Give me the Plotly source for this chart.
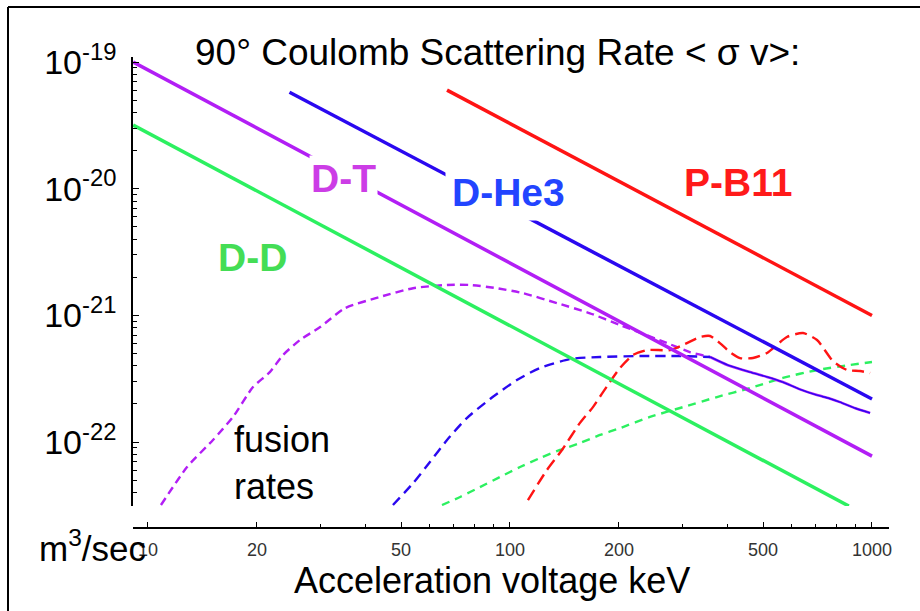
import plotly.graph_objects as go

# ---- Data ----
# 90-degree Coulomb scattering rate <sigma v> (m^3/s) vs acceleration voltage (keV)
dt_coul_keV = [9.1, 1000]
dt_coul_rate = [1.0e-19, 7.76e-23]
dd_coul_keV = [9.1, 863]
dd_coul_rate = [3.18e-20, 3.13e-23]
dhe3_coul_keV = [24.6, 1000]
dhe3_coul_rate = [5.77e-20, 2.19e-22]
pb11_coul_keV = [67, 1000]
pb11_coul_rate = [6.0e-20, 1.0e-21]

# fusion rates (dashed)
dt_fus_keV = [10.86, 12.82, 15.12, 17.17, 19.5, 21.7, 23.6, 26.3, 29.9, 35.0, 43.7, 54.0,
              67.0, 77.5, 92.0, 108.6, 134.9, 166.3, 201.3, 271.5, 314, 357]
dt_fus_rate = [3.19e-23, 6.36e-23, 1.04e-22, 1.58e-22, 2.72e-22, 3.57e-22, 4.87e-22, 6.40e-22,
               8.10e-22, 1.14e-21, 1.40e-21, 1.64e-21, 1.74e-21, 1.74e-21, 1.64e-21, 1.50e-21,
               1.25e-21, 1.04e-21, 8.40e-22, 6.05e-22, 5.14e-22, 4.70e-22]
dhe3_fus_keV = [47.5, 54.0, 60.1, 67.0, 76.0, 88.1, 104.5, 121.0, 146.5, 177.3, 228.6, 295, 357]
dhe3_fus_rate = [3.19e-23, 4.75e-23, 6.97e-23, 1.04e-22, 1.55e-22, 2.19e-22, 3.09e-22,
                 3.85e-22, 4.53e-22, 4.70e-22, 4.78e-22, 4.78e-22, 4.70e-22]
# high-energy tails (thin solid, D-T and D-He3 overlap)
tail_keV = [357, 400, 460, 513, 567, 630, 705, 760, 816, 900, 988]
tail_rate = [4.70e-22, 4.05e-22, 3.57e-22, 3.27e-22, 2.98e-22, 2.62e-22, 2.35e-22,
             2.22e-22, 2.07e-22, 1.85e-22, 1.70e-22]
pb11_fus_keV = [112.1, 126.5, 139.2, 156.1, 169.5, 180.7, 201.3, 218.6, 239, 276.7, 304, 335,
                357, 380, 405, 432, 469, 513, 582, 645, 705, 780, 853, 927, 988]
pb11_fus_rate = [3.49e-23, 6.03e-23, 8.67e-23, 1.42e-22, 1.89e-22, 2.48e-22, 3.85e-22, 4.87e-22,
                 5.33e-22, 5.33e-22, 5.94e-22, 6.76e-22, 6.88e-22, 6.05e-22, 5.14e-22, 4.61e-22,
                 4.61e-22, 5.05e-22, 6.76e-22, 7.26e-22, 6.40e-22, 4.36e-22, 3.71e-22, 3.64e-22,
                 3.51e-22]
dd_fus_keV = [64.9, 72.8, 82.6, 93.8, 106.6, 121.0, 137.4, 156.1, 177.3, 201.3, 243.6, 300.6,
              373, 460, 567, 705, 869, 1000]
dd_fus_rate = [3.19e-23, 3.69e-23, 4.42e-23, 5.30e-23, 6.36e-23, 7.49e-23, 8.67e-23, 9.84e-23,
               1.14e-22, 1.29e-22, 1.58e-22, 1.89e-22, 2.27e-22, 2.67e-22, 3.21e-22, 3.71e-22,
               4.06e-22, 4.29e-22]

x_tickvals = [10, 20, 50, 100, 200, 500, 1000]
x_ticktext = ["10", "20", "50", "100", "200", "500", "1000"]
y_tickvals = [1e-22, 1e-21, 1e-20, 1e-19]
y_ticktext = ["10<sup>-22</sup>", "10<sup>-21</sup>", "10<sup>-20</sup>", "10<sup>-19</sup>"]

x_minor = [m * 10 ** k for k in range(1, 3) for m in range(2, 10)]
y_minor = [m * 10.0 ** k for k in range(-23, -19) for m in range(2, 10)]

PURPLE = "#b21ef5"
BLUE = "#2a08f0"
RED = "#ff1414"
GREEN = "#2cf060"
FONT = "Liberation Sans, Arial, sans-serif"

fig = go.Figure()

def add(x, y, color, width, dash="solid"):
    fig.add_trace(go.Scatter(x=x, y=y, mode="lines", line_shape="spline",
                             line=dict(color=color, width=width, dash=dash, smoothing=0.6),
                             hoverinfo="skip", showlegend=False))

# fusion curves
add(dd_fus_keV, dd_fus_rate, GREEN, 2.4, "8px,6px")
add(dt_fus_keV, dt_fus_rate, PURPLE, 2.4, "8px,5px")
add(tail_keV, tail_rate, PURPLE, 2.6)
add(dhe3_fus_keV, dhe3_fus_rate, BLUE, 2.4, "10px,6px")
add(tail_keV, tail_rate, BLUE, 1.4)
add(pb11_fus_keV, pb11_fus_rate, RED, 2.4, "12px,6px")

# Coulomb scattering lines
add(dd_coul_keV, dd_coul_rate, GREEN, 3.5)
add(dt_coul_keV, dt_coul_rate, PURPLE, 3.5)
add(dhe3_coul_keV, dhe3_coul_rate, BLUE, 3.5)
add(pb11_coul_keV, pb11_coul_rate, RED, 3.5)

L, R, T, B = 133, 31, 57, 83
W, H = 920, 611
pw, ph = W - L - R, H - T - B

def px(x):
    return (x - L) / pw

def py(y):
    return (H - B - y) / ph

fig.update_layout(
    width=W, height=H,
    margin=dict(l=L, r=R, t=T, b=B),
    paper_bgcolor="white", plot_bgcolor="white",
    font=dict(family=FONT, color="black"),
    showlegend=False,
    xaxis=dict(type="log", range=[0.9586, 3.047], domain=[0, 1],
               anchor="free", position=0,
               showline=True, linecolor="black", linewidth=1.5,
               showgrid=False, zeroline=False,
               ticks="inside", ticklen=5, tickwidth=1.2, tickcolor="black",
               tickvals=x_tickvals, ticktext=x_ticktext,
               tickfont=dict(size=18, color="#333333", family=FONT),
               ticklabelstandoff=6,
               minor=dict(tickvals=x_minor, ticks="inside", ticklen=3,
                          tickwidth=1, tickcolor="black", showgrid=False)),
    yaxis=dict(type="log", range=[-22.504, -18.9605], domain=[(H - B - 506) / ph, 1],
               anchor="x",
               showline=True, linecolor="black", linewidth=1.5,
               showgrid=False, zeroline=False,
               ticks="inside", ticklen=6, tickwidth=1.2, tickcolor="black",
               tickvals=y_tickvals, ticktext=y_ticktext,
               tickfont=dict(size=34, color="black", family=FONT),
               ticklabelstandoff=8,
               minor=dict(tickvals=y_minor, ticks="inside", ticklen=4,
                          tickwidth=1, tickcolor="black", showgrid=False)),
)

ann = [
    dict(text="90° Coulomb Scattering Rate < σ v>:", x=px(497), y=py(52), size=37,
         color="black"),
    dict(text="<b>D-T</b>", x=px(343), y=py(178), size=39, color="#cc3de6", bg=True, pad=1),
    dict(text="<b>D-He3</b>", x=px(508), y=py(192), size=39, color="#2244ff", bg=True, pad=6),
    dict(text="<b>P-B11</b>", x=px(738), y=py(182), size=39, color="#ff1a1a", bg=False),
    dict(text="<b>D-D</b>", x=px(252), y=py(257), size=39, color="#44dd55", bg=False),
]
for a in ann:
    fig.add_annotation(text=a["text"], x=a["x"], y=a["y"], xref="paper", yref="paper",
                       xanchor="center", yanchor="middle", showarrow=False,
                       font=dict(size=a["size"], color=a["color"], family=FONT),
                       bgcolor="white" if a.get("bg") else "rgba(0,0,0,0)",
                       borderpad=a.get("pad", 1))

fig.add_annotation(text="fusion<br>rates", x=px(232), y=py(463), xref="paper", yref="paper",
                   xanchor="left", yanchor="middle", align="left", showarrow=False,
                   font=dict(size=36, color="black", family=FONT))
fig.add_annotation(text="m<sup>3</sup>/sec", x=px(37), y=py(546), xref="paper", yref="paper",
                   xanchor="left", yanchor="middle", showarrow=False,
                   font=dict(size=35, color="black", family=FONT))
fig.add_annotation(text="Acceleration voltage keV", x=px(492), y=py(580), xref="paper",
                   yref="paper", xanchor="center", yanchor="middle", showarrow=False,
                   font=dict(size=36, color="black", family=FONT))

# outer frame
fig.add_shape(type="line", xref="paper", yref="paper", x0=px(8), x1=px(8), y0=py(7), y1=py(700),
              line=dict(color="black", width=2))
fig.add_shape(type="line", xref="paper", yref="paper", x0=px(8), x1=px(1000), y0=py(7), y1=py(7),
              line=dict(color="black", width=2))

fig.write_html("out.html")
